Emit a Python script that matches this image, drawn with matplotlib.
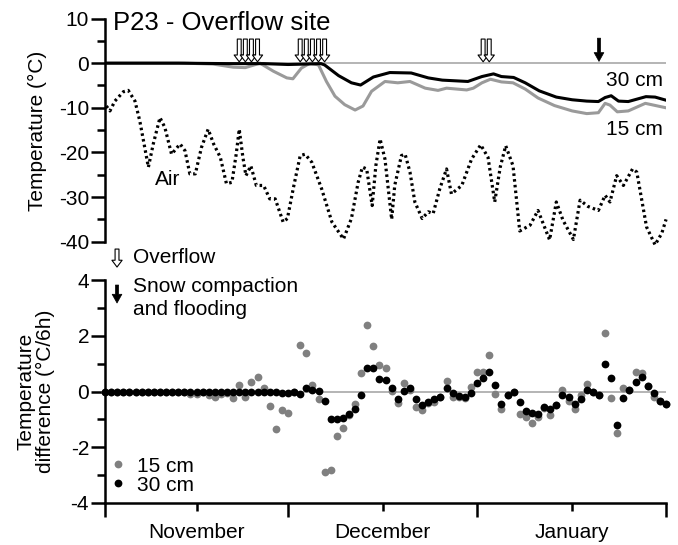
import numpy as np
import matplotlib
matplotlib.use('Agg')
import matplotlib.pyplot as plt
from matplotlib.ticker import MultipleLocator

plt.rcParams['font.family'] = ['Liberation Sans', 'DejaVu Sans']

# x axis in days since 1 November
air_day = [0.2, 0.8, 1.6, 3.0, 3.8, 4.9, 5.7, 7.1, 7.9, 9.0, 9.8, 10.9, 12.3, 13.1, 13.9,
           14.8, 15.8, 16.9, 17.8, 18.9, 19.9, 20.8, 21.5, 22.0, 22.6, 23.1, 23.9, 24.8,
           26.0, 27.0, 27.9, 29.2, 29.9, 30.9, 32.0, 32.8, 33.9, 35.5, 37.2, 39.1, 40.4,
           41.5, 42.2, 42.9, 43.8, 44.4, 45.1, 45.9, 47.0, 47.5, 48.6, 49.2, 50.0, 50.8,
           52.0, 53.0, 53.8, 54.9, 56.0, 56.8, 58.5, 60.1, 61.6, 62.8, 63.9, 64.8, 65.7,
           66.9, 68.0, 69.7, 71.0, 72.9, 74.0, 75.1, 76.8, 77.9, 79.2, 80.9, 82.0, 82.8,
           83.9, 85.0, 86.5, 87.2, 88.8, 90.2, 91.3, 92.0]
air_temp = [-9.6, -10.7, -8.5, -6.4, -6.1, -8.5, -13.0, -23.3, -18.1, -12.2, -14.4, -20.4,
            -18.1, -19.6, -24.8, -24.8, -18.9, -14.8, -18.1, -21.1, -27.0, -26.7, -20.4,
            -14.8, -21.1, -25.2, -23.0, -27.4, -27.4, -30.4, -30.4, -35.6, -34.8, -27.8,
            -20.7, -20.4, -22.2, -28.1, -35.6, -39.4, -34.8, -26.7, -23.3, -23.7, -31.9,
            -23.0, -17.0, -21.5, -35.0, -27.4, -20.7, -20.4, -24.4, -31.1, -34.8, -33.3,
            -33.7, -28.1, -23.7, -29.3, -27.4, -21.5, -18.3, -21.1, -31.1, -23.3, -18.5,
            -23.0, -37.6, -36.3, -33.0, -39.6, -31.1, -35.2, -39.5, -30.7, -32.1, -33.0,
            -29.6, -31.1, -25.2, -27.4, -23.7, -24.4, -36.7, -40.7, -38.1, -35.0]

t30_day = [0, 12, 20, 26, 30, 33, 35.4, 36, 38.3, 40.4, 41.9, 44.0, 46.7, 50.2, 53.0, 55.3,
           59.5, 61.8, 63.7, 65.0, 67.0, 68.9, 71.2, 74.0, 76.6, 79.0, 80.9, 82.0, 83.0,
           84.2, 85.8, 88.7, 90.2, 92.0]
t30_temp = [0, 0, -0.1, -0.1, -0.3, -0.2, -0.1, -0.4, -2.8, -4.4, -4.9, -3.1, -2.1, -2.2,
            -3.3, -3.8, -4.1, -3.0, -2.4, -3.0, -3.2, -4.4, -6.2, -7.6, -8.2, -8.5, -8.6,
            -7.7, -7.3, -8.5, -8.6, -7.5, -7.6, -8.3]

t15_day = [0, 13, 17.7, 21, 23, 25.4, 27.6, 29.8, 30.8, 32.2, 33.6, 35.0, 36.3, 37.7, 39.3,
           41.0, 42.3, 43.7, 45.9, 48.0, 50.0, 52.5, 54.6, 56.0, 59.3, 60.4, 61.8, 63.2,
           65.0, 66.9, 68.9, 71.0, 73.7, 76.6, 79.0, 80.9, 82.0, 82.8, 84.0, 85.8, 88.6, 92.0]
t15_temp = [0, 0, -0.2, -0.9, -1.0, 0, -1.8, -3.3, -3.5, -1.1, 0, -0.4, -4.1, -7.4, -9.3,
            -10.5, -9.6, -6.3, -4.1, -4.4, -4.1, -5.6, -6.1, -5.6, -6.0, -5.6, -4.4, -3.6,
            -4.2, -4.4, -5.8, -7.8, -9.5, -10.7, -11.3, -11.1, -9.0, -9.4, -10.9, -10.7,
            -9.0, -10.0]

overflow_days = [22, 23, 24, 25, 32, 33, 34, 35, 36, 62, 63]
compaction_days = [81]

diff_day = np.arange(93)
diff15 = [0, 0, 0, 0, 0, 0, 0, 0, 0, 0, 0, 0, 0, 0, -0.1, -0.1, 0, -0.12, -0.18, -0.1,
          -0.05, -0.24, 0.23, -0.18, 0.35, 0.51, 0.12, -0.51, -1.36, -0.66, -0.77, 0.0,
          1.68, 1.38, 0.23, -0.27, -2.89, -2.81, -1.6, -1.3, -0.85, -0.45, 0.68, 2.38,
          1.63, 0.95, 0.86, 0.02, -0.41, 0.29, 0.05, -0.55, -0.65, -0.4, -0.36, -0.2,
          0.39, -0.18, -0.2, -0.25, 0.15, 0.7, 0.7, 1.3, -0.09, -0.61, -0.13, 0.0, -0.81,
          -0.93, -1.14, -0.93, -0.6, -0.84, -0.5, 0.06, -0.33, -0.61, -0.13, 0.26, 0.0,
          -0.12, 2.11, -0.24, -1.5, 0.12, 0.05, 0.71, 0.66, 0.2, -0.2, -0.35, -0.45]
diff30 = [0, 0, 0, 0, 0, 0, 0, 0, 0, 0, 0, 0, 0, 0, 0, 0, 0, 0, 0, 0, 0, 0, 0, 0, 0, 0,
          0, 0, 0, -0.05, -0.06, -0.02, -0.09, 0.12, 0.05, 0.01, -0.33, -0.99, -0.97,
          -0.96, -0.82, -0.61, -0.13, 0.85, 0.85, 0.45, 0.43, 0.13, -0.26, 0.01, 0.11,
          -0.26, -0.48, -0.36, -0.26, -0.18, 0.12, -0.04, -0.15, -0.21, -0.05, 0.32, 0.48,
          0.71, 0.25, -0.46, -0.13, -0.01, -0.39, -0.69, -0.78, -0.81, -0.56, -0.63, -0.48,
          -0.12, -0.21, -0.46, -0.27, 0.06, 0.0, -0.12, 0.98, 0.49, -1.19, -0.25, 0.05,
          0.35, 0.51, 0.2, -0.07, -0.33, -0.45]

month_names = ['November', 'December', 'January']
month_edges = [0, 30, 61, 92]
month_mids = [15, 45.5, 76.5]

open_arrow = dict(arrowstyle='simple,head_length=0.7,head_width=1.05,tail_width=0.4',
                  mutation_scale=7, fc='white', ec='black', lw=0.8, shrinkA=0, shrinkB=0)
solid_arrow = dict(arrowstyle='simple,head_length=0.9,head_width=1.0,tail_width=0.32',
                   mutation_scale=7, fc='black', ec='black', lw=0.5, shrinkA=0, shrinkB=0)

fig = plt.figure(figsize=(6.78, 5.45), dpi=100)
ax1 = fig.add_axes([0.155, 0.5565, 0.8274, 0.4095])
ax2 = fig.add_axes([0.155, 0.0771, 0.8274, 0.4091])
ax1.patch.set_alpha(0)
ax2.patch.set_alpha(0)

# top panel: temperatures
ax1.axhline(0, color='#a8a8a8', lw=1.2, zorder=1)
ax1.plot(t15_day, t15_temp, color='#9a9a9a', lw=2.2)
ax1.plot(t30_day, t30_temp, color='black', lw=2.2)
ax1.plot(air_day, air_temp, color='black', lw=2.3, ls=(0, (0.8, 1.0)), clip_on=False)
for d in overflow_days:
    ax1.annotate('', xy=(d, 0.3), xytext=(d, 5.4), arrowprops=open_arrow,
                 annotation_clip=False)
for d in compaction_days:
    ax1.annotate('', xy=(d, 0.4), xytext=(d, 5.6), arrowprops=solid_arrow,
                 annotation_clip=False)
ax1.text(8.2, -27.4, 'Air', fontsize=15, va='baseline')
ax1.text(91.5, -5.2, '30 cm', fontsize=15, ha='right', va='baseline')
ax1.text(91.5, -16.1, '15 cm', fontsize=15, ha='right', va='baseline')

ax1.set_xlim(0, 92)
ax1.set_ylim(-40, 10)
for s in ['top', 'right', 'bottom']:
    ax1.spines[s].set_visible(False)
ax1.spines['left'].set_linewidth(1.8)
ax1.set_xticks([])
ax1.set_yticks([10, 0, -10, -20, -30, -40])
ax1.set_yticklabels(['10', '0', '-10', '-20', '-30', '-40'])
ax1.yaxis.set_minor_locator(MultipleLocator(5))
ax1.tick_params(axis='y', which='major', length=10, width=1.8, labelsize=15, pad=1.5)
ax1.tick_params(axis='y', which='minor', length=5.5, width=1.8)

# bottom panel: temperature differences
ax2.axhline(0, color='#a8a8a8', lw=1.2, zorder=1)
ax2.plot(diff_day, diff15, 'o', color='#808080', ms=5.6, mew=0, label='15 cm', clip_on=False)
ax2.plot(diff_day, diff30, 'o', color='black', ms=5.6, mew=0, label='30 cm', clip_on=False)
ax2.legend(loc='lower left', bbox_to_anchor=(0.012, 0.038), frameon=False, fontsize=15,
           handlelength=0.6, handletextpad=0.6, labelspacing=0.0, borderpad=0,
           borderaxespad=0, markerscale=1.0)

ax2.set_xlim(0, 92)
ax2.set_ylim(-4, 4)
for s in ['top', 'right']:
    ax2.spines[s].set_visible(False)
ax2.spines['left'].set_linewidth(1.8)
ax2.spines['bottom'].set_linewidth(1.8)
ax2.set_yticks([4, 2, 0, -2, -4])
ax2.set_yticklabels(['4', '2', '0', '-2', '-4'])
ax2.yaxis.set_minor_locator(MultipleLocator(1))
ax2.set_xticks(month_edges)
ax2.set_xticklabels([])
ax2.set_xticks(month_mids, minor=True)
ax2.set_xticklabels(month_names, minor=True, fontsize=15)
ax2.tick_params(which='major', length=10, width=1.8, labelsize=15, pad=1.5)
ax2.tick_params(which='minor', length=5.5, width=1.8)
ax2.tick_params(axis='x', which='minor', pad=9)

# legend arrows and labels
fig_arrows = fig.add_axes([0, 0, 1, 1], zorder=5)
fig_arrows.set_axis_off()
fig_arrows.set_xlim(0, 1)
fig_arrows.set_ylim(0, 1)
fig_arrows.annotate('', xy=(0.1726, 0.510), xytext=(0.1726, 0.543), arrowprops=open_arrow)
fig_arrows.annotate('', xy=(0.1726, 0.444), xytext=(0.1726, 0.477), arrowprops=solid_arrow)
fig.text(0.1962, 0.5174, 'Overflow', fontsize=15, va='baseline')
fig.text(0.1962, 0.4648, 'Snow compaction', fontsize=15, va='baseline')
fig.text(0.1962, 0.4220, 'and flooding', fontsize=15, va='baseline')

fig.text(0.1667, 0.945, 'P23 - Overflow site', fontsize=18.5, va='baseline')
fig.text(0.0546, 0.760, 'Temperature (°C)', fontsize=15, rotation=90, ha='center', va='center')
fig.text(0.053, 0.2826, 'Temperature\ndifference (°C/6h)', fontsize=15, rotation=90,
         ha='center', va='center', ma='center', linespacing=1.0)

fig.savefig('out.png', dpi=100)
